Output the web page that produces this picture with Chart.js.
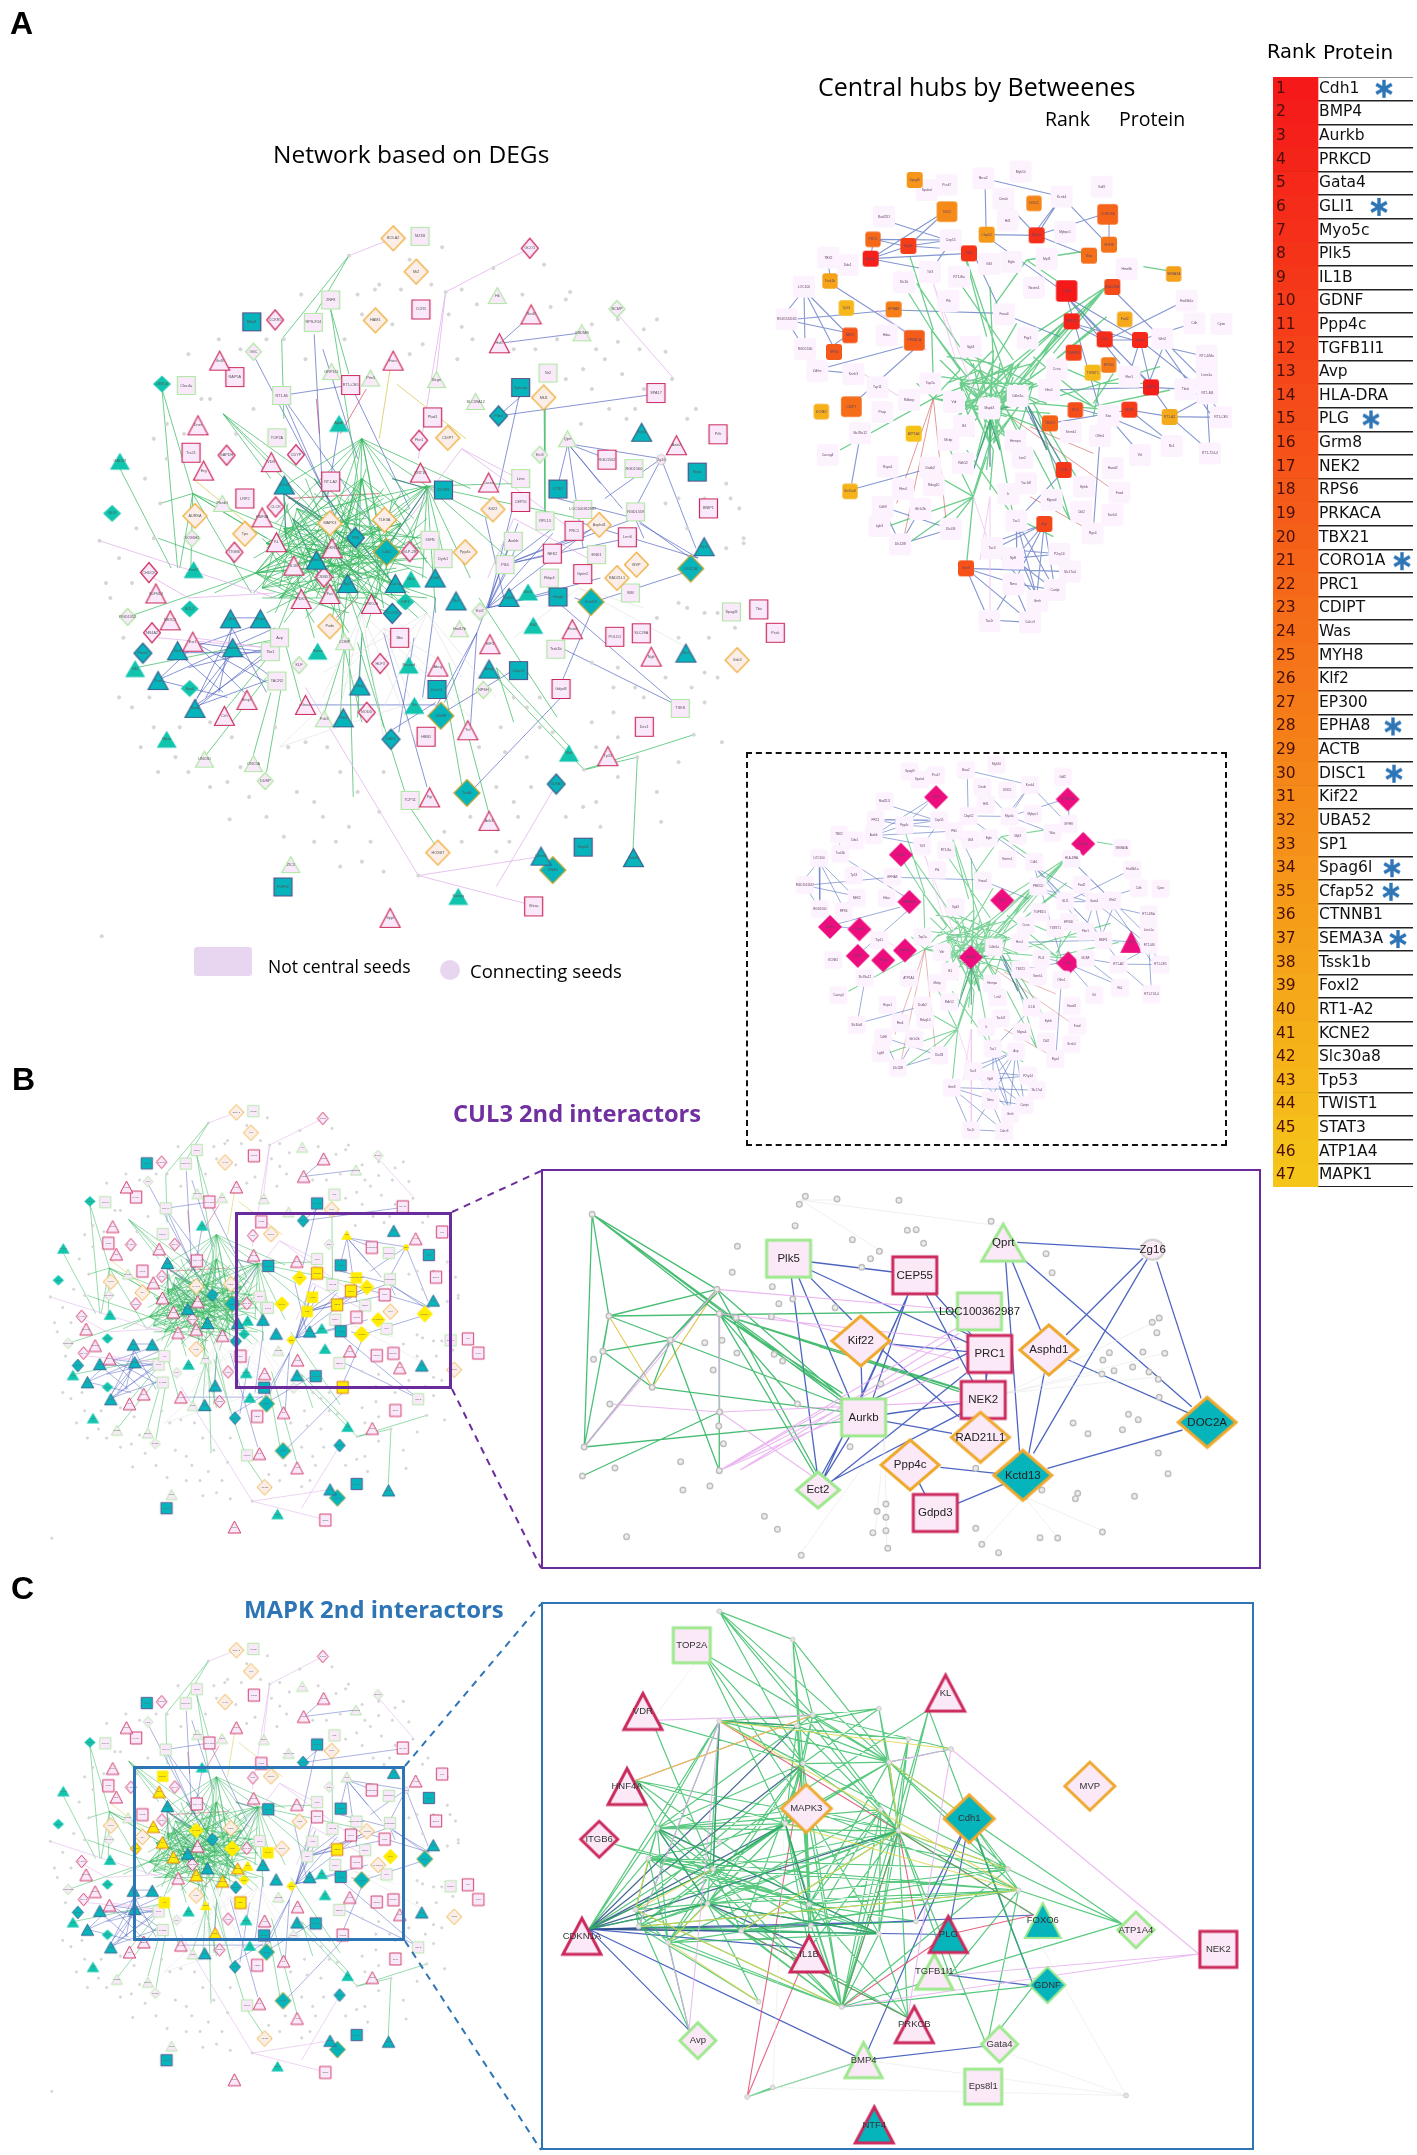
<!DOCTYPE html>
<html>
<head>
<meta charset="utf-8">
<title>Network figure</title>
<script src="https://cdn.jsdelivr.net/npm/chart.js@4"></script>
<style>
html, body { margin: 0; padding: 0; background: #fff; }
#page { position: relative; width: 1417px; height: 2155px; overflow: hidden; background: #fff; }
#page canvas { position: absolute; }
.txt { position: absolute; white-space: nowrap; line-height: 1; z-index: 6; }
.frame { position: absolute; box-sizing: border-box; z-index: 5; }
</style>
</head>
<body>
<div id="page">
  <div class="txt" style="left:10px;top:7px;font:bold 32px/1 'Liberation Sans'">A</div>
  <div class="txt" style="left:12px;top:1063px;font:bold 32px/1 'Liberation Sans'">B</div>
  <div class="txt" style="left:11px;top:1572px;font:bold 32px/1 'Liberation Sans'">C</div>
  <div class="txt" style="left:273px;top:142px;font:24.5px/1 'Open Sans'">Network based on DEGs</div>
  <div class="txt" style="left:818px;top:74px;font:25px/1 'Open Sans'">Central hubs by Betweenes</div>
  <div class="txt" style="left:1045px;top:109px;font:19.5px/1 'Open Sans'">Rank</div>
  <div class="txt" style="left:1119px;top:109px;font:19.5px/1 'Open Sans'">Protein</div>
  <div class="txt" style="left:1267px;top:42px;font:19.5px/1 'DejaVu Sans'">Rank</div>
  <div class="txt" style="left:1323px;top:42px;font:20px/1 'DejaVu Sans'">Protein</div>
  <div class="txt" style="left:268px;top:958px;font:17.5px/1 'Open Sans'">Not central seeds</div>
  <div class="txt" style="left:470px;top:962px;font:18.5px/1 'Open Sans'">Connecting seeds</div>
  <div class="txt" style="left:453px;top:1102px;font:bold 23.7px/1 'Open Sans';color:#7030a0">CUL3 2nd interactors</div>
  <div class="txt" style="left:244px;top:1597px;font:bold 23.9px/1 'Open Sans';color:#2e75b6">MAPK 2nd interactors</div>
  <div class="frame" style="left:194px;top:947px;width:58px;height:29px;background:#e8d6f1;border-radius:3px"></div>
  <div class="frame" style="left:440px;top:960px;width:20px;height:20px;background:#e8d6f1;border-radius:50%"></div>
  <div class="frame" style="left:746px;top:752px;width:481px;height:394px;border:2.5px dashed #111"></div>
  <div class="frame" style="left:235px;top:1212px;width:217px;height:177px;border:3px solid #6a2c9c"></div>
  <div class="frame" style="left:541px;top:1169px;width:720px;height:400px;border:2.5px solid #6a2c9c"></div>
  <div class="frame" style="left:133px;top:1766px;width:272px;height:175px;border:3px solid #2e75b6"></div>
  <div class="frame" style="left:541px;top:1602px;width:713px;height:548px;border:2.5px solid #2e75b6"></div>
  <svg width="1417" height="2155" style="position:absolute;left:0;top:0;z-index:5;pointer-events:none">
    <g stroke="#6a2c9c" stroke-width="2" stroke-dasharray="7 6" fill="none">
      <line x1="452" y1="1212" x2="541" y2="1171"/><line x1="452" y1="1389" x2="541" y2="1568"/>
    </g>
    <g stroke="#2e75b6" stroke-width="2" stroke-dasharray="7 6" fill="none">
      <line x1="405" y1="1766" x2="541" y2="1604"/><line x1="405" y1="1941" x2="541" y2="2150"/>
    </g>
  </svg>
</div>
<script>
// ranking table
const ranks = ["1","2","3","4","5","6","7","8","9","10","11","12","13","14","15","16","17","18","19","20","21","22","23","24","25","26","27","28","29","30","31","32","33","34","35","36","37","38","39","40","41","42","43","44","45","46","47"];
const proteins = ["Cdh1","BMP4","Aurkb","PRKCD","Gata4","GLI1","Myo5c","Plk5","IL1B","GDNF","Ppp4c","TGFB1I1","Avp","HLA-DRA","PLG","Grm8","NEK2","RPS6","PRKACA","TBX21","CORO1A","PRC1","CDIPT","Was","MYH8","Klf2","EP300","EPHA8","ACTB","DISC1","Kif22","UBA52","SP1","Spag6l","Cfap52","CTNNB1","SEMA3A","Tssk1b","Foxl2","RT1-A2","KCNE2","Slc30a8","Tp53","TWIST1","STAT3","ATP1A4","MAPK1"];
const starRanks = ["1","6","15","21","28","30","34","35","37"];
const starColumn = [1384,1379,1371,1402,1393,1394,1392,1391,1398];

// network A in crop units
const redTriangles = [["Gnl3",322,323],["Rnd2",1040,230],["Hsf2",967,288],["Fanc",722,323],["Dner",272,453],["Erg",285,544],["VDR",441,527],["HNF4A",420,638],["KRT18",785,548],["Cacna",942,568],["Axin2",1375,493],["KL",453,688],["CDKN1A",581,700],["IL1B",493,735],["SLFN14",175,791],["Fas",576,792],["PDK1",510,802],["PRKCB",672,812],["NR3C1",208,845],["Esr1",260,888],["Hoxd",1135,863],["HIF3",945,893],["Ngfr",1317,918],["Abcg",825,938],["Bmp7",385,1005],["Crh",333,1037],["Gnas",520,1015],["Tnf",894,1066],["Tp53",1217,1118],["Pgr",806,1201],["Ank3",943,1248],["Sppl",715,1443]];
const tealRedTriangles = [["Crhr2",471,573],["Kcnj3",1295,467],["Grin1",545,724],["Syt1",617,771],["Cacng",727,771],["Drd2",819,760],["Ncf",867,806],["Cdk5",989,799],["Cdkn",347,842],["Hspa",416,842],["Gabra",352,900],["Slc6",225,906],["Tnnt",180,966],["Rasd",265,1022],["Gng",645,977],["Pik3",607,1041],["Adcy",943,943],["Sirt1",1439,697],["Nos",1397,911],["Chrm1",1063,1319],["Gsk3a",1276,1322]];
const tealGreenTriangles = [["GALNT",92,525],["Foxl2",262,743],["ApoE",597,449],["Glra",763,762],["Dbx1",1033,788],["Slit2",1045,855],["Sema",548,907],["Neurod",758,935],["Gli2",127,942],["Vtn",771,1016],["Hpse",200,1084],["Wnt",1127,1112],["Nanog",872,1400]];
const greenTriangles = [["Hk",962,192],["GSDMB",1157,267],["Qprt",1124,480],["GRP161",580,345],["Ptrx5",670,358],["Bcgn",822,361],["SLC39A12",912,405],["Plxnb1",328,610],["Hsd17b",875,862],["COMP",610,888],["UNC80",287,1124],["ONC5A",400,1133],["ZIC3",486,1336],["Pak3",563,1043]];
const orangeDiamonds = [["BOLA2",722,77],["MiZ",775,144],["HAM1",681,242],["Mkl1",1069,397],["CDIPT",848,478],["AURKA",265,635],["Tpx",380,671],["MAPK3",576,650],["TLE3A",702,643],["Kif22",952,622],["Ppp4c",888,708],["Asphd1",1197,653],["MVP",1283,733],["RAD21L1",1238,760],["Pxdn",576,857],["Gsk3",1515,925],["HOXB7",825,1312]];
const tealOrangeDiamonds = [["Cdh1",707,708],["DOC2A",1408,741],["Kctd13",1178,808],["GDNF",832,1037],["TaxBt",892,1192],["DNAJ",1090,1347]];
const redDiamonds = [["GCO1",1037,97],["CCKR5",450,241],["GAPDH",338,513],["CDYP",498,512],["CLCK",451,617],["Fkn1",782,483],["ITGB6",356,708],["GLP-2R",760,707],["CHUCK",159,749],["CSMD1",562,758],["NR4A2",166,870],["HLF3",692,932],["NODD",661,1030]];
const tealRedDiamonds = [["Fbxo2",145,911],["TRK",635,679],["CLOCK",720,831],["DKK1",717,1084],["Pdzd",965,434],["GLRA1",1098,1174]];
const tealGreenDiamonds = [["LRRC6",189,370],["GLI3",74,630],["BCL2",253,822],["Sox4",253,982],["IGF1",750,808]];
const greenDiamonds = [["IGIC",400,305],["BCMP",1238,219],["Ect3",1060,512],["SOX6H2",258,680],["RGD1352",110,838],["Ect2",922,827],["KLF",505,935],["NPSH",930,985],["DUSP",427,1168]];
const redSquares = [["CCR5",786,220],["RAP5A",357,356],["RT1-CE5",624,372],["Plod1",813,437],["Trc21",256,508],["LRP2",380,600],["RT1-A2",578,566],["CEP55",1016,607],["RGD1562",1215,522],["SPA17",1328,388],["Prlk",1471,471],["BNIP1",1449,620],["PRC1",1139,665],["Lrrn6",1262,678],["NEK2",1089,711],["Gprin2",1159,752],["POLD1",1233,878],["SLC39A",1294,871],["Gdpd3",1109,983],["Dec1",1301,1059],["Bbs",737,880],["HBB1",798,1079],["Shisa",1046,1420],["Tbx",1565,823],["Pcsk",1603,870]];
const tealRedSquares = [["Mbd1",396,245],["Syncrip",1016,377],["ZC3H3",838,583],["CTSO",1102,581],["Sirpa",1423,547],["Hmgb",1102,798],["Cfap52",1011,946],["Dnmt1",823,984],["Map4k",1160,1301],["FGFR2",468,1381]];
const greenSquares = [["MZ1B",784,73],["ZNF8",578,201],["RPS-F24",538,246],["Clec4a",245,373],["Nr2",1079,348],["RT1-Mi",465,393],["TOP2A",454,478],["Lims",1016,560],["RGD1560",1277,540],["LOC100362987",1159,622],["RGD1559",1281,627],["RPL13",1072,645],["Aurkb",999,686],["ENK1",1191,713],["Fkbp4",1082,760],["Plk5",980,733],["IGFN",807,684],["Dyrk1",837,721],["SIM",1269,790],["Tssk1b",1097,903],["TSKS",1384,1022],["Spag6l",1502,828],["TCP11",761,1207],["Tbx1",439,908],["TACR2",454,967],["Avp",460,880]];
const greenCircles = [["Zg16",1340,522]];

// grey connector nodes of network A
const networkDots = [620,112,843,185,953,137,690,170,880,180,915,210,1130,185,1020,190,1085,215,1180,250,1240,285,1290,300,1350,305,1330,240,1300,260,1365,360,1210,320,1160,340,1120,360,1220,420,1260,440,1155,450,850,230,880,255,905,280,870,320,790,290,760,310,680,180,640,190,510,190,470,280,430,280,300,400,250,310,280,400,360,470,200,450,185,610,150,560,130,660,45,685,90,720,120,770,70,800,160,1000,120,1020,170,1060,230,1060,340,1170,370,1140,345,1245,500,1190,540,1210,560,1240,620,1260,670,1290,690,1230,540,1290,600,1340,780,1358,840,1270,880,1290,980,1110,1010,1240,1040,1180,1000,1210,1120,1240,1190,1210,1240,1160,1285,1120,1162,1145,1415,1075,1480,1090,1330,1190,1340,1250,1380,1130,1410,980,1440,1010,1470,960,1510,860,1490,700,1530,690,1490,570,1500,600,1530,680,1400,660,1380,600,1350,610,1380,810,1330,840,1440,830,1230,980,1180,1050,1230,1030,1280,980,1180,930,1240,940,50,1480,920,1100,970,1060,1030,1020,1060,1000,1000,1000,600,1150,570,1100,480,1100,450,1060,520,1090,700,1150,640,1190,350,1080,220,1120,300,1050,240,470,400,420,760,120,835,95,
  1000,300,1050,300,1100,280,1190,300,1250,350,1300,380,1420,420,1400,440,1490,480,1180,380,1280,420,1440,600,1520,620,1400,820,1450,880,1470,830,1380,880,1350,960,1300,1000,1440,950,1240,1080,1190,1100,1090,1070,1060,1060,1030,1120,960,1180,900,1240,990,1290,1200,1260,1160,1220,960,1310,700,1350,650,1330,590,1290,470,1280,430,1240,390,1200,300,1180,250,1150,180,1150,140,1100,90,1000,100,880,60,770,170,680,200,520,170,480,320,280,370,300,520,320,720,250,610,280,650,230,740,180,810,170,1070,130,1120,200,1240,240];

// edges of network A: hub point, then the far ends
const networkGreen = [
  [800,575,[645,480,700,640,760,700,640,700,605,760,560,620,450,700,790,760,730,600,840,720,1000,730,900,760,1150,640,1000,570,820,830,940,640]],
  [650,480,[450,650,560,700,640,800,700,720,540,620,800,730,760,600,900,580,580,850,720,800,480,570]],
  [405,750,[600,560,650,700,760,720,800,720,560,660,700,600,500,800,600,830,720,830,180,680,110,838,310,790,720,690,630,620,560,580]],
  [560,640,[400,790,450,880,650,870,720,780,800,830,610,880,400,720,780,680,760,800,690,660]],
  [650,560,[620,720,545,800,700,820,480,760,690,740,830,760,770,640,600,900,510,800,430,700]],
  [470,660,[760,790,700,810,620,870,540,880,800,680,660,640,590,800]],
  [540,780,[700,580,760,640,620,600,800,800,470,600,430,830]],
  [430,690,[620,760,700,720,760,780,660,590,590,600,540,850,800,700,820,800]],
  [600,700,[430,760,470,850,520,720,680,830,780,840,640,560,730,680,420,640,760,620]],
  [500,620,[700,760,650,830,600,800,460,780,800,760,740,700]],
  [720,700,[470,760,540,590,600,610,580,860,440,800,660,860,800,640]],
  [610,760,[470,620,520,560,740,590,790,670,440,690,740,830]],
  [680,800,[540,660,450,720,590,590,720,600,800,600,420,800]],
  [460,800,[700,640,620,650,680,700,760,740,590,690]],
  [560,800,[800,680,700,640,660,540,420,680]],
  [420,780,[660,660,590,730,540,620,730,740,620,830,480,610]],
  [740,650,[480,720,560,760,430,740,520,840,640,840,600,560]],
  [520,700,[690,610,790,740,610,820,450,830,740,810,660,720]],
  [260,590,[450,690,230,740,430,680,560,700,185,610,395,790,255,760]],
  [330,430,[580,640,760,700,440,560,640,720]],
  [620,112,[465,280,538,235]],
  [578,220,[620,350,640,560]],
  [465,280,[470,440]],
  [92,540,[210,740]],
  [189,380,[260,590,225,740]],
  [1070,415,[1072,630]],
  [1285,1120,[1275,1305,1165,1145]],
  [1162,1145,[1415,1075,960,960]],
  [885,1200,[845,1000]],
  [945,1240,[850,930]],
  [825,1305,[760,1220]],
  [760,1220,[640,890]],
  [630,1200,[620,880]],
  [287,1120,[430,960]],
  [400,1115,[440,990]],
  [430,1150,[470,950]],
  [960,940,[1130,1100,1000,1050]],
  [920,800,[1100,1040]],
  [610,900,[600,1040,650,1050,560,1040]],
  [650,870,[640,1040,700,1060]],
  [470,880,[330,1030,510,1010,130,940]]
];
const networkDark = [[470,590,[475,680,560,640,640,700]],[490,640,[560,770,650,760]],[620,660,[730,780,540,560]],[800,580,[720,560,690,720]]];
const networkBlue = [
  [1125,490,[1250,620,1100,580,1340,520,1160,700,1200,570,1215,520]],
  [1340,520,[1280,620,1210,600,1420,700]],
  [1280,640,[1408,720,1100,600,1090,700,1300,680]],
  [940,820,[1090,670,1000,610,1000,720,1180,660,1090,790,1200,760,1010,690,990,690]],
  [980,733,[1090,660,1200,655,1140,680,1262,680,1090,710]],
  [1016,380,[965,580]],
  [965,434,[1328,390,1016,395]],
  [968,288,[1040,232,1157,267]],
  [1097,895,[1375,1015]],
  [1140,800,[1178,810]],
  [1109,1000,[900,1190]],
  [1178,810,[1408,745]],
  [1178,830,[1110,970]],
  [1425,720,[1290,650,1160,650]],
  [915,870,[840,1010,820,1020,900,1060,1010,650]],
  [820,1040,[1000,945]],
  [735,1070,[770,880]],
  [720,1065,[820,1010]],
  [800,1180,[700,870]],
  [505,1015,[820,1015]],
  [640,1000,[650,880]],
  [790,1000,[820,800]],
  [265,890,[430,970,390,1000,440,910]],
  [350,840,[415,840]],
  [350,860,[260,1020,430,990,320,990]],
  [225,910,[420,850,440,910,330,990]],
  [180,965,[270,890,450,860,340,1000]],
  [440,900,[270,1020,250,940]],
  [260,1020,[450,960,440,910]],
  [355,905,[290,1000,460,970,270,1000]],
  [465,393,[624,372,680,660,590,640]],
  [624,372,[760,620]],
  [540,270,[560,600]],
  [560,300,[640,520]],
  [405,320,[560,580]],
  [600,440,[570,600]],
  [935,640,[980,810]],
  [1090,800,[1370,1010]]
];
const networkPink = [
  [780,1358,[1060,1320,1030,1415,520,980]],
  [45,685,[450,800]],
  [843,185,[1037,97,820,360,780,520]],
  [620,112,[722,77]],
  [1240,230,[1370,360]],
  [960,1380,[1095,1180]],
  [880,500,[1010,560,760,640,1130,660]],
  [250,800,[450,790,140,745]],
  [1000,640,[940,760,1170,720]],
  [430,900,[260,880,180,880]]
];
const networkYellow = [[715,340,[690,480]],[730,370,[890,480]],[260,560,[400,660]]];
const networkRed = [[545,400,[552,470]],[660,380,[600,470]],[590,840,[640,800]],[480,600,[690,590]]];
const networkHaze = [
  [650,830,[700,1080,780,1100,900,1040,600,1020,560,1000]],
  [800,830,[620,1000,700,1020,880,960,960,1000,560,950]],
  [1150,780,[1400,900,1300,820,1000,880]],
  [460,1100,[640,950,800,1000]],
  [700,860,[880,1000,600,960,760,1000,820,920]]
];

// detail B
const cul3Green = [["Plk5",534,296],["LOC100362987",944,454],["Aurkb",695,772]];
const cul3Red = [["CEP55",805,346],["PRC1",966,582],["NEK2",952,720],["Gdpd3",849,1059]];
const cul3Orange = [["Kif22",689,543],["Asphd1",1093,570],["RAD21L1",946,832],["Ppp4c",795,915]];
const cul3Teal = [["Kctd13",1037,946],["DOC2A",1433,787]];
const cul3Ect = [["Ect2",597,990]];
const cul3Tri = [["Qprt",995,248]];
const cul3Circle = [["Zg16",1316,269]];
const cul3Dots = [570,109,557,133,638,117,771,121,548,197,424,259,413,337,499,380,513,431,543,417,634,443,497,470,421,473,354,548,391,541,115,598,423,579,372,630,503,583,521,603,732,672,302,905,161,924,394,851,307,990,365,978,666,860,482,1069,510,1108,186,1130,561,1186,743,1032,724,1054,743,1072,743,1112,715,1118,747,1165,936,1105,949,1153,985,1178,1074,1133,1112,1134,1208,1116,1277,1009,1155,1000,1150,1016,1078,990,1041,1010,998,957,936,925,1349,941,1328,879,1251,809,1177,821,1145,789,1285,779,1264,763,1330,712,1328,658,1308,636,1273,621,1233,632,1207,642,1209,600,1223,578,1295,576,1342,580,1325,518,1315,487,1330,474,1100,338,1087,281,969,184,824,250,808,209,789,211,671,239,729,274,710,296,691,322,112,163,380,388,385,461,148,468,280,540,135,574,241,682,150,732,386,756,384,798,95,861,91,948,385,932,553,732];
const cul3GreenEdges = [
  [112,163,[148,468,95,861,385,461,380,388,650,715,650,725]],
  [380,388,[148,468,650,715,280,540,597,945]],
  [148,468,[900,455,135,574,95,861,650,735]],
  [280,540,[135,574,95,861,241,682,385,932,380,400]],
  [135,574,[241,682]],
  [241,682,[650,755]],
  [95,861,[650,785]],
  [91,948,[386,756]],
  [385,461,[900,695,900,685,650,715,597,960,553,732,385,932,650,700]],
  [600,560,[905,690]]
];
const cul3YellowEdges = [[148,468,[241,682]],[241,682,[380,388]]];
const cul3PinkEdges = [
  [380,388,[900,450,95,861]],
  [385,461,[900,540,386,756]],
  [150,732,[386,756]],
  [386,756,[900,725,597,960]],
  [385,932,[900,500,900,620,650,720,900,560]],
  [95,861,[280,540]],
  [500,470,[900,600]],
  [430,930,[650,760,900,520]]
];
const cul3BlueEdges = [
  [582,306,[758,336]],[580,330,[918,548]],[582,355,[670,480]],[555,350,[665,715]],[540,352,[595,935]],
  [790,405,[690,715,715,715,610,950]],[830,405,[930,665]],[850,405,[930,530]],
  [750,552,[918,575]],[735,570,[900,770]],[690,620,[692,715]],
  [918,580,[720,715]],[915,640,[625,965]],[745,762,[905,730]],[745,785,[885,820]],
  [960,640,[958,665]],[665,830,[612,950]],[650,830,[605,945]],[905,760,[630,960]],
  [1025,247,[1290,268]],[1000,300,[1030,875]],[1013,300,[1075,510]],[1040,300,[1400,740]],
  [1295,295,[1130,525]],[1305,295,[1060,880]],[1325,305,[1420,715]],
  [1135,600,[1395,760]],[1083,640,[1050,880]],[1380,810,[1090,925]],
  [860,922,[980,940]],[815,970,[827,1003]],[897,1030,[1000,970]],[900,510,[930,530]]
];
const cul3HazeEdges = [
  [1000,700,[1330,480,1340,580,1330,650,1200,640]],
  [740,830,[745,1160,720,1120,560,1180]],
  [1040,1010,[950,1150,1110,1130,1205,1110]],
  [560,120,[740,280,640,120,1000,200]]
];

// detail C
const mapkRedTri = [["VDR",221,315],["KL",871,263],["HNF4A",187,527],["CDKN1A",90,950],["IL1B",578,1000],["PRKCB",804,1200]];
const mapkRedDia = [["ITGB6",127,676]];
const mapkRedSq = [["NEK2",1457,987]];
const mapkOrange = [["MAPK3",572,589],["MVP",1181,526]];
const mapkTealOrange = [["Cdh1",922,618]];
const mapkTealRed = [["PLG",877,945],["NTF4",718,1483]];
const mapkTealGreenTri = [["FOXO6",1080,905]];
const mapkTealGreenDia = [["GDNF",1090,1088]];
const mapkGreenSq = [["TOP2A",326,128],["Eps8l1",952,1375]];
const mapkGreenTri = [["TGFB1I1",847,1050],["BMP4",695,1300]];
const mapkGreenDia = [["ATP1A4",1280,932],["Avp",339,1245],["Gata4",987,1255]];
// junction and node anchor points, edges below refer to them by position
const mapkPoints = [[385,32],[543,112],[586,325],[728,307],[385,342],[552,355],[565,462],[750,458],[791,393],[883,421],[732,592],[527,632],[770,652],[252,645],[233,730],[372,760],[360,858],[578,860],[205,875],[212,923],[432,935],[582,920],[275,968],[728,943],[808,908],[1005,760],[1028,820],[470,1135],[648,1150],[445,1404],[500,1377],[1259,1400],[385,683],[105,930],[578,985],[790,1180],[922,618],[1060,890],[1250,915],[1060,1090],[240,340],[205,510],[160,690],[350,150],[835,310],[572,589],[880,1060],[1415,1000],[695,1300],[960,1260],[320,1215],[877,945]];
const mapkGreenEdges = [
  [0,[1,6,7,12,2]],[1,[2,6,7,21]],[43,[6,45,7,11]],[2,[3,6,7,9,11,4,12,13]],[3,[6,7,5,12]],
  [4,[6,8,15,16,13,7,25,19]],[5,[7,11,12,17,3,4]],[6,[7,11,12,13,16,22,28,18,20,17]],
  [7,[9,12,11,15,25,26,36,17]],[8,[12,23,28]],[10,[17,13,28,16,21]],[11,[13,14,15,16,19,22,25,28,21,34]],
  [12,[13,15,16,18,19,20,22,25,26,28,34,35,46,37]],[13,[14,15,16,18,23,22,28,33,45,12]],[14,[15,17,23,25,28,26]],
  [15,[17,20,21,23,26,28,22,19,45]],[16,[20,23,26,28,27,25,19,12,35]],[17,[21,28,35,25,24,26]],
  [18,[22,19,28,16,12]],[19,[20,23,28,27,26]],[20,[21,23,35,28,26]],[21,[28,24,45]],[22,[28,23,26,50]],
  [23,[28,35,12,10]],[25,[36,38,28]],[26,[36,38,12,49,46]],[41,[13,15,17,11,12]],[40,[15,6]],[42,[15,17]],
  [44,[28,39,12,33]],[28,[39,46]],[33,[13,4,14,15,16]],[45,[28,34,19,23,7,26,12]],[38,[46,36]],[36,[26,25,39]],
  [29,[30,48]],[49,[39,12]],[50,[14,18]]
];
const mapkDarkEdges = [[33,[5,11,15,12,16,6]],[4,[5,15]],[13,[23,16]],[11,[15,17]],[16,[34,23]],[33,[20,21]]];
const mapkBlueEdges = [[33,[34,50,48,51,24]],[36,[51,39,24]],[46,[39]],[48,[49,36]],[37,[21]]];
const mapkYellowEdges = [[4,[9,26]],[41,[2]],[18,[14,15,28]],[22,[27,16]],[7,[36,12]],[12,[25,20]],[26,[19,11]]];
const mapkPinkEdges = [[40,[2]],[9,[47,7,35]],[47,[46,28]],[4,[19,50]],[22,[50]],[28,[47]]];
const mapkRedEdges = [[29,[34,6]],[28,[51,12]],[51,[37]],[4,[12]],[41,[2]],[12,[37]],[35,[20]],[24,[12]]];
const mapkHazeEdges = [[30,[1,31]],[31,[36,49]],[29,[48]],[48,[31]],[40,[43]]];

// hub network, sized squares coloured by rank, then the pale ones
const hubRanked = [["Cdh1",920,423,64],["BMP4",1173,712,48],["Aurkb",332,326,48],["PRKCD",935,514,48],["Gata4",1140,570,48],["GLI1",1034,568,48],["Myo5c",830,256,48],["Plk5",627,310,48],["IL1B",911,960,48],["GDNF",1108,779,48],["Ppp4c",445,288,48],["TGFB1I1",941,608,48],["Avp",853,1122,48],["HLA-DRA",1057,411,48],["PLG",946,780,46],["Grm8",618,1255,48],["NEK2",270,556,46],["RPS6",222,606,48],["PRKACA",463,571,62],["TBX21",870,820,48],["CORO1A",1043,193,62],["PRC1",339,268,46],["CDIPT",274,770,62],["Was",987,317,48],["MYH8",1047,284,48],["EP300",1046,645,46],["EPHA8",401,478,48],["DISC1",822,160,46],["Kif22",561,185,62],["Spag6l",464,90,48],["Cfap52",680,254,48],["SEMA3A",1241,372,46],["Tssk1b",210,393,46],["Foxl2",1094,508,46],["RT1-A2",1229,801,48],["KCNE2",184,785,46],["Slc30a8",270,1024,46],["Tp53",259,474,46],["TWIST1",998,668,48],["ATP1A4",461,851,48]];
const hubPale = [["TBX2",205,323],["Ddx1",263,345],["Rad21l1",372,200],["Spatial",500,120],["Pcsk7",560,104],["Brca2",670,85],["Myh10",782,65],["Cmah",730,147],["Kcnk4",905,140],["Gdf2",1025,110],["Hif1",743,212],["Cep55",572,270],["Tcf3",510,366],["Dlc1b",432,397],["RT1-Ba",597,380],["Gli3",687,342],["Egln",754,336],["Mpl3",860,327],["Mybpc1",915,246],["Hmx6b",1100,357],["Nectin1",822,413],["Ptk",565,453],["Foxa4",732,493],["Sgk3",632,590],["Pigr1",803,565],["LOC100",132,410],["RGD1561182",80,508],["RGD1560",135,597],["Hdac",380,556],["Zdhhc",172,663],["Kcnh3",280,672],["Tcp11",352,712],["Psap",367,786],["Top2a",511,700],["Rdbiop",447,750],["Vdr",582,756],["Mapk3",688,775],["Cdkn1a",773,738],["Ccna",890,658],["Hes1",867,720],["Fbn1",1108,680],["Tbcb",1276,718],["RT1-M4",1342,730],["RT1-CE5",1383,802],["RT1-T24-4",1350,910],["Lims1a",1340,675],["RT1-DMa",1340,617],["Wnt2",1207,566],["Cdh",1303,520],["Cpsn",1384,522],["Hsd3b1a",1280,452],["Ift1",612,827],["Mcbp",565,870],["Hnrnpa",766,872],["Lxn2",787,923],["Snrnk1",933,846],["Sos",1045,797],["Olfm1",1020,858],["Vcl",1140,915],["Rs1",1235,888],["Slc39a12",300,850],["Cacng4",203,915],["Rspo1",383,950],["Dsdb2",511,953],["Rdh52",609,940],["Fbn4",429,1017],["Rdug10",521,1005],["Tac1r8",798,1000],["Hand2",1058,955],["Foxd",1078,1028],["Ephb",972,1010],["Mgea4",875,1050],["Cbl2",964,1085],["Scnk4",1057,1095],["Rgs4",998,1150],["Ir",745,1032],["Cdh9",368,1070],["Gfr1r2b",481,1077],["Lgb3",358,1128],["Dlc12f8",421,1183],["Dlc4l3",572,1137],["Tac1",769,1112],["Tac3",696,1194],["Npff",759,1225],["P2ry14",898,1212],["Slc17a4",930,1265],["Nmu",760,1303],["Cartpt",885,1320],["Gnrh",832,1353],["Tac2r",688,1413],["Calcr3",810,1417]];
const hubGreen = [
  [688,775,[540,630,600,700,620,830,780,640,830,700,860,650,920,530,700,600,650,610,760,700,640,720,610,840,650,920,690,880,750,880,780,920,830,830,870,790,580,760,520,745]],
  [688,880,[640,640,720,640,760,680,600,680,680,960,640,1030,800,740,700,600]],
  [600,700,[760,760,700,600,820,700,700,900,640,860,820,640]],
  [760,640,[620,780,640,700,700,880,590,800,660,900]],
  [640,780,[850,700,820,760,760,880,700,640]],
  [700,700,[800,900,600,620,860,760,540,680]],
  [820,700,[640,620,600,760,700,880,760,900]],
  [660,660,[780,840,830,760,600,800,720,900,560,700]],
  [920,510,[810,680,690,720,760,640,700,800]],
  [1040,410,[810,650,880,610,910,530,780,580,760,720]],
  [520,745,[600,660,470,700,760,650,640,760,240,900,740,800]],
  [450,320,[520,540]],
  [470,400,[640,650]],
  [515,540,[620,680,520,700,600,660,440,420]],
  [640,1040,[620,1240,380,1130,500,960,570,1130,680,920,430,1190,560,880]],
  [690,1020,[700,900]],
  [700,640,[770,520,560,620,690,410,620,800]],
  [860,650,[1040,500,1000,540,700,760]],
  [1060,670,[1000,760]],
  [1000,770,[860,700,820,620,1230,720]],
  [820,760,[1060,780,1200,650,960,1000]],
  [600,400,[760,630]],
  [610,300,[680,560,760,750]],
  [800,330,[1000,300,930,420,700,470]],
  [1150,350,[1240,365]],
  [760,1100,[620,900,700,780,880,1160]],
  [930,1110,[830,780,820,900]],
  [1020,700,[880,640,1170,700,1000,800]]
];
const hubDark = [[800,760,[910,950,860,900,700,780]],[690,810,[690,950,640,960,720,900]]];
const hubBlue = [
  [332,326,[627,310,445,288,530,200,510,360,340,270]],
  [340,268,[530,270,445,290,560,270]],
  [445,288,[530,210,620,300,570,270]],
  [372,210,[560,270]],
  [510,365,[570,280]],
  [132,420,[135,590,220,590,60,510,250,540]],
  [80,510,[400,480,130,590,270,550]],
  [200,600,[270,550]],
  [205,340,[210,380]],
  [210,400,[460,560]],
  [270,770,[460,600]],
  [170,660,[280,670,430,590]],
  [920,440,[1040,560,1140,570,1020,780,1175,710,1080,640]],
  [1060,420,[1200,560,1320,680]],
  [935,520,[1140,575,1030,570]],
  [1040,570,[1140,570,1170,700,1280,450]],
  [1140,570,[1100,700,1170,700,1340,730,1300,520]],
  [1210,590,[1170,690,1350,790,1340,620]],
  [1230,800,[1380,802,1340,740,1350,905]],
  [1340,730,[1350,905,1380,790]],
  [1175,712,[1230,790,1280,718,870,720]],
  [1108,780,[1235,880,1230,800,870,820]],
  [1045,800,[1140,910,1235,880,970,780]],
  [830,256,[730,150,905,140,680,254,987,317,1040,190]],
  [905,140,[670,85,830,240,1040,280]],
  [675,90,[678,230]],
  [680,260,[890,410]],
  [1047,280,[1047,200]],
  [725,490,[400,480,640,310,760,500,900,560]],
  [1020,860,[1000,1140]],
  [905,970,[790,1090]],
  [510,955,[270,1020]],
  [300,860,[275,1000]],
  [618,1255,[760,1300,930,1265,690,1420,810,1415]],
  [853,1122,[720,1170,760,1300,830,1340,885,1320,760,1230,696,1200]],
  [769,1112,[770,1240,830,1340,885,1320]],
  [696,1194,[900,1212,830,1340]],
  [759,1225,[885,1320,900,1212]],
  [760,1300,[690,1415,810,1415,885,1320]],
  [690,1410,[810,1417]],
  [830,1340,[770,1200]],
  [368,1070,[572,1137,421,1183]],
  [421,1183,[572,1137,481,1077]],
  [900,965,[790,760,810,800]]
];
const hubPink = [[690,1040,[690,1400,660,1230]],[640,1040,[700,1220]],[520,400,[640,720,590,640]],[500,600,[350,480]],[260,640,[450,760]]];
const hubRed = [[520,745,[410,1060,430,1170,560,1130]],[810,830,[1000,910]],[750,800,[1060,1020]],[810,1040,[970,1130]]];

const cul3Highlight = ["Qprt","Zg16","Kif22","CEP55","LOC100362987","Asphd1","PRC1","NEK2","Aurkb","Plk5","Ect2","Kctd13","RAD21L1","DOC2A","Ppp4c","Gdpd3"];
const mapkHighlight = ["TOP2A","VDR","HNF4A","ITGB6","KL","MAPK3","IL1B","Cdh1","Dyrk1","Ect2","Fas","PRKCB","Cacng","Glra","IGF1","Bbs","Avp","COMP","Gng","NEK2","MVP"];
const dashedHighlight = ["Kif22","CORO1A","Hmx6b","Dlc1b","PRKACA","Pigr1","Kcnh3","Zdhhc","CDIPT","Psap","Rdbiop","Mapk3","Sos","Tbcb"];

const PALE = "#f9e9fa", RED = "#cc2a5c", GREEN = "#aee8a2", ORANGE = "#efa92e", TEAL = "#06b4bb", TEAL2 = "#10c4ae", DARK = "#37628f", YELLOW = "#ffec00";

function heat(rank) {
    const hue = ((rank - 1) / 46) * 47;
    return "hsl(" + hue + ",92%,53%)";
}

function sprite(shape, w, h, fill, line, lw, round) {
    const c = document.createElement("canvas");
    c.width = Math.ceil(w + lw * 2 + 2);
    c.height = Math.ceil(h + lw * 2 + 2);
    const g = c.getContext("2d");
    const cx = c.width / 2, cy = c.height / 2;
    g.beginPath();
    if (shape === "tri") {
        g.moveTo(cx, cy - h / 2);
        g.lineTo(cx + w / 2, cy + h / 2);
        g.lineTo(cx - w / 2, cy + h / 2);
        g.closePath();
    } else if (shape === "dia") {
        g.moveTo(cx, cy - h / 2);
        g.lineTo(cx + w / 2, cy);
        g.lineTo(cx, cy + h / 2);
        g.lineTo(cx - w / 2, cy);
        g.closePath();
    } else if (shape === "circle") {
        g.ellipse(cx, cy, w / 2, h / 2, 0, 0, Math.PI * 2);
    } else {
        g.roundRect(cx - w / 2, cy - h / 2, w, h, round || 0);
    }
    g.fillStyle = fill;
    g.fill();
    if (line && lw > 0) {
        g.strokeStyle = line;
        g.lineWidth = lw;
        g.lineJoin = "miter";
        g.stroke();
    }
    return c;
}

function starSegments(stars) {
    const out = [];
    stars.forEach(function (s) {
        for (let i = 0; i < s[2].length; i += 2) {
            out.push({ x: s[0], y: s[1] }, { x: s[2][i], y: s[2][i + 1] }, { x: null, y: null });
        }
    });
    return out;
}

function pointSegments(points, edges) {
    const out = [];
    edges.forEach(function (e) {
        e[1].forEach(function (t) {
            const a = points[e[0]], b = points[t];
            out.push({ x: a[0], y: a[1] }, { x: b[0], y: b[1] }, { x: null, y: null });
        });
    });
    return out;
}

function edgeSet(data, color, width) {
    return { data: data, showLine: true, borderColor: color, borderWidth: width, pointRadius: 0, spanGaps: false, order: 3 };
}

function dotSet(flat, fill, line, radius, lineWidth) {
    const data = [];
    for (let i = 0; i < flat.length; i += 2) data.push({ x: flat[i], y: flat[i + 1] });
    return { data: data, pointStyle: "circle", pointRadius: radius, pointBackgroundColor: fill, pointBorderColor: line, pointBorderWidth: lineWidth || 1, order: 2 };
}

function nodeSet(list, style, k, lw, highlight, hiFill) {
    const base = sprite(style.shape, style.w * k, style.h * k, style.fill, style.line, lw);
    const hiLine = style.line === RED || style.line === DARK ? "#d9741f" : null;
    const hi = sprite(style.shape, style.w * k, style.h * k, hiFill || YELLOW, hiLine, lw);
    return {
        data: list.map(function (n) { return { x: n[1], y: n[2] }; }),
        names: list.map(function (n) { return n[0]; }),
        pointStyle: list.map(function (n) { return highlight && highlight.includes(n[0]) ? hi : base; }),
        pointRadius: 6,
        order: 1,
    };
}

const nodeLabels = {
    id: "nodeLabels",
    afterDatasetsDraw: function (chart, args, opts) {
        const g = chart.ctx;
        g.save();
        g.font = opts.size + "px " + (opts.family || "'Liberation Sans'");
        g.fillStyle = opts.color || "#444";
        g.textAlign = "center";
        g.textBaseline = "middle";
        chart.data.datasets.forEach(function (ds, i) {
            if (!ds.names) return;
            chart.getDatasetMeta(i).data.forEach(function (el, j) {
                g.fillText(ds.names[j], el.x, el.y);
            });
        });
        g.restore();
    },
};

function networkChart(box, xMax, yMax, datasets, labelSize, blur, labelColor) {
    const canvas = document.createElement("canvas");
    canvas.width = box[2];
    canvas.height = box[3];
    canvas.style.left = box[0] + "px";
    canvas.style.top = box[1] + "px";
    canvas.style.width = box[2] + "px";
    canvas.style.height = box[3] + "px";
    if (blur) canvas.style.filter = "blur(" + blur + "px)";
    document.getElementById("page").appendChild(canvas);
    return new Chart(canvas, {
        type: "scatter",
        data: { datasets: datasets },
        plugins: [nodeLabels],
        options: {
            responsive: false,
            animation: false,
            events: [],
            layout: { padding: 0, autoPadding: false },
            scales: {
                x: { type: "linear", display: false, min: 0, max: xMax },
                y: { type: "linear", display: false, min: 0, max: yMax, reverse: true },
            },
            plugins: {
                legend: { display: false },
                tooltip: { enabled: false },
                nodeLabels: { size: labelSize, color: labelColor },
            },
        },
    });
}

// network A and its two thumbnails
function networkSets(k, lw, alpha, highlight) {
    const a = function (rgb, x) { return "rgba(" + rgb + "," + x * alpha + ")"; };
    const sets = [
        edgeSet(starSegments(networkHaze), a("225,225,225", 0.8), 0.8),
        edgeSet(starSegments(networkPink), a("226,180,236", 0.8), 1),
        edgeSet(starSegments(networkGreen), a("58,186,98", 0.72), 1),
        edgeSet(starSegments(networkDark), a("30,110,110", 0.8), 1.2),
        edgeSet(starSegments(networkBlue), a("72,92,190", 0.65), 1),
        edgeSet(starSegments(networkYellow), a("220,210,110", 0.9), 1),
        edgeSet(starSegments(networkRed), a("222,90,120", 0.8), 1),
        dotSet(networkDots, "#d6d6d6", "#d6d6d6", 1.6 * Math.max(k, 0.7)),
    ];
    const groups = [
        [redTriangles, { shape: "tri", w: 20, h: 19, fill: PALE, line: RED }],
        [tealRedTriangles, { shape: "tri", w: 20, h: 18, fill: TEAL, line: DARK }],
        [tealGreenTriangles, { shape: "tri", w: 20, h: 17, fill: TEAL2, line: null }],
        [greenTriangles, { shape: "tri", w: 18, h: 16, fill: PALE, line: GREEN }],
        [orangeDiamonds, { shape: "dia", w: 24, h: 25, fill: "#fbeee8", line: ORANGE }],
        [tealOrangeDiamonds, { shape: "dia", w: 26, h: 27, fill: TEAL, line: "#c7a52a" }],
        [redDiamonds, { shape: "dia", w: 17, h: 20, fill: PALE, line: RED }],
        [tealRedDiamonds, { shape: "dia", w: 18, h: 20, fill: TEAL, line: DARK }],
        [tealGreenDiamonds, { shape: "dia", w: 18, h: 17, fill: TEAL2, line: null }],
        [greenDiamonds, { shape: "dia", w: 16, h: 17, fill: PALE, line: GREEN }],
        [redSquares, { shape: "sq", w: 18, h: 19, fill: PALE, line: RED }],
        [tealRedSquares, { shape: "sq", w: 18, h: 18, fill: TEAL, line: "#5a4f8a" }],
        [greenSquares, { shape: "sq", w: 18, h: 18, fill: PALE, line: GREEN }],
        [greenCircles, { shape: "circle", w: 9, h: 10, fill: PALE, line: "#cccccc" }],
    ];
    groups.forEach(function (g) {
        sets.push(nodeSet(g[0], g[1], k, lw, highlight));
    });
    return sets;
}

networkChart([80, 200, 720, 780], 1660, 1568, networkSets(1, 1.2, 1), 3.8, 0.5, "#555");
networkChart([38, 1089, 456, 476], 1660, 1568, networkSets(0.63, 0.9, 0.72, cul3Highlight), 2.3, 0.4, "#666");
networkChart([38, 1626, 456, 493], 1660, 1568, networkSets(0.63, 0.9, 0.72, mapkHighlight), 2.3, 0.4, "#666");

// hub network and its dashed twin
function hubSets(k, alpha, coloured, highlight) {
    const a = function (rgb, x) { return "rgba(" + rgb + "," + x * alpha + ")"; };
    const sets = [
        edgeSet(starSegments(hubPink), a("240,190,240", 0.7), 1.1 * k),
        edgeSet(starSegments(hubGreen), a("62,190,104", 0.75), 1.3 * k),
        edgeSet(starSegments(hubDark), a("30,110,110", 0.75), 1.3 * k),
        edgeSet(starSegments(hubBlue), a("84,110,190", 0.72), 1.1 * k),
        edgeSet(starSegments(hubRed), a("214,110,110", 0.7), 1 * k),
    ];
    const paleSprite = sprite("sq", 22 * k, 22 * k, "#fdf3fe", null, 0, 3);
    const pinkSprite = sprite("dia", 24 * k / 0.82, 24 * k / 0.82, "#ec0d7e", null, 0);
    const pinkTri = sprite("tri", 22 * k / 0.82, 22 * k / 0.82, "#ec0d7e", null, 0);
    sets.push({
        data: hubPale.map(function (n) { return { x: n[1], y: n[2] }; }),
        names: hubPale.map(function (n) { return n[0]; }),
        pointStyle: hubPale.map(function (n) {
            if (highlight && highlight.includes(n[0])) return n[0] === "Tbcb" ? pinkTri : pinkSprite;
            return paleSprite;
        }),
        pointRadius: 6,
        order: 2,
    });
    sets.push({
        data: hubRanked.map(function (n) { return { x: n[1], y: n[2] }; }),
        names: hubRanked.map(function (n) { return n[0]; }),
        pointStyle: hubRanked.map(function (n) {
            const side = (n[3] / 3) * k;
            if (highlight && highlight.includes(n[0])) return pinkSprite;
            if (!coloured) return paleSprite;
            return sprite("sq", side, side, heat(proteins.indexOf(n[0]) + 1), null, 0, 3);
        }),
        pointRadius: 6,
        order: 1,
    });
    return sets;
}

networkChart([760, 150, 480, 500], 1440, 1500, hubSets(1, 1, true), 3.3, 0.55, "#664466");
networkChart([783, 747, 393, 407], 1440, 1500, hubSets(0.82, 0.9, false, dashedHighlight), 3, 0.5, "#664466");

// detail B
const green2 = "rgba(40,178,90,0.85)", blue2 = "rgba(58,84,186,0.9)", pink2 = "rgba(232,170,238,0.85)";
networkChart([540, 1160, 730, 420], 1568, 1260, [
    edgeSet(starSegments(cul3HazeEdges), "rgba(228,228,228,0.7)", 0.8),
    edgeSet(starSegments(cul3PinkEdges), pink2, 1.1),
    edgeSet(starSegments(cul3GreenEdges), green2, 1.3),
    edgeSet(starSegments(cul3YellowEdges), "#e0c850", 1.1),
    edgeSet(starSegments(cul3BlueEdges), blue2, 1.3),
    dotSet(cul3Dots, "#ececec", "#bdbdbd", 2.8, 1.4),
    nodeSet(cul3Teal, { shape: "dia", w: 58, h: 50, fill: TEAL, line: ORANGE }, 1, 3),
    nodeSet(cul3Orange, { shape: "dia", w: 58, h: 50, fill: "#fbe9f8", line: ORANGE }, 1, 3),
    nodeSet(cul3Red, { shape: "sq", w: 44, h: 37, fill: "#fbe9f8", line: RED }, 1, 3),
    nodeSet(cul3Green, { shape: "sq", w: 44, h: 37, fill: "#fbe9f8", line: "#9ee88e" }, 1, 3),
    nodeSet(cul3Ect, { shape: "dia", w: 43, h: 36, fill: "#fbe9f8", line: "#9ee88e" }, 1, 3),
    nodeSet(cul3Tri, { shape: "tri", w: 43, h: 37, fill: "#fbe9f8", line: "#9ee88e" }, 1, 3),
    nodeSet(cul3Circle, { shape: "circle", w: 23, h: 20, fill: "#fbe9f8", line: "#cfcfcf" }, 1, 2),
], 11.5, 0.35, "#222");

// detail C
const mapkEdgeSets = [
    edgeSet(pointSegments(mapkPoints, mapkHazeEdges), "rgba(228,228,228,0.6)", 0.8),
    edgeSet(pointSegments(mapkPoints, mapkPinkEdges), "rgba(232,175,240,0.85)", 1.1),
    edgeSet(pointSegments(mapkPoints, mapkYellowEdges), "rgba(224,214,80,0.85)", 1.1),
    edgeSet(pointSegments(mapkPoints, mapkGreenEdges), "rgba(44,186,92,0.78)", 1.2),
    edgeSet(pointSegments(mapkPoints, mapkRedEdges), "rgba(226,74,110,0.85)", 1.1),
    edgeSet(pointSegments(mapkPoints, mapkDarkEdges), "rgba(44,80,130,0.85)", 1.3),
    edgeSet(pointSegments(mapkPoints, mapkBlueEdges), blue2, 1.2),
];
const mapkJunctions = [];
mapkPoints.slice(0, 33).forEach(function (p) { mapkJunctions.push(p[0], p[1]); });
networkChart([540, 1600, 730, 555], 1568, 1568, mapkEdgeSets.concat([
    dotSet(mapkJunctions, "#e4e4e4", "#cccccc", 2.4),
    nodeSet(mapkRedTri, { shape: "tri", w: 38, h: 36, fill: "#fbe9f8", line: RED }, 1, 3),
    nodeSet(mapkRedDia, { shape: "dia", w: 37, h: 36, fill: "#fbe9f8", line: RED }, 1, 3),
    nodeSet(mapkRedSq, { shape: "sq", w: 37, h: 36, fill: "#fbe9f8", line: RED }, 1, 3),
    nodeSet(mapkOrange, { shape: "dia", w: 50, h: 48, fill: "#fbe9f8", line: ORANGE }, 1, 3),
    nodeSet(mapkTealOrange, { shape: "dia", w: 50, h: 48, fill: TEAL, line: ORANGE }, 1, 3),
    nodeSet(mapkTealRed, { shape: "tri", w: 38, h: 36, fill: TEAL, line: RED }, 1, 3),
    nodeSet(mapkTealGreenTri, { shape: "tri", w: 36, h: 35, fill: TEAL, line: "#9ee88e" }, 1, 2),
    nodeSet(mapkTealGreenDia, { shape: "dia", w: 36, h: 36, fill: TEAL, line: "#9ee88e" }, 1, 2),
    nodeSet(mapkGreenSq, { shape: "sq", w: 37, h: 35, fill: "#fbe9f8", line: "#9ee88e" }, 1, 3),
    nodeSet(mapkGreenTri, { shape: "tri", w: 37, h: 35, fill: "#fbe9f8", line: "#9ee88e" }, 1, 3),
    nodeSet(mapkGreenDia, { shape: "dia", w: 36, h: 36, fill: "#fbe9f8", line: "#9ee88e" }, 1, 3),
]), 9.5, 0.35, "#333");

// ranking table
const tableCanvas = document.createElement("canvas");
tableCanvas.width = 140;
tableCanvas.height = 1110;
tableCanvas.style.left = "1273px";
tableCanvas.style.top = "77px";
tableCanvas.style.filter = "blur(0.3px)";
document.getElementById("page").appendChild(tableCanvas);

const starSprite = (function () {
    const c = document.createElement("canvas");
    c.width = 20;
    c.height = 20;
    const g = c.getContext("2d");
    g.strokeStyle = "#2e75b6";
    g.lineWidth = 3.4;
    g.translate(10, 10);
    for (let i = 0; i < 3; i++) {
        g.beginPath();
        g.moveTo(0, -9);
        g.lineTo(0, 9);
        g.stroke();
        g.rotate(Math.PI / 3);
    }
    return c;
})();

function flattenAxis(s) {
    s.width = 0;
    s.paddingTop = 0;
    s.paddingBottom = 0;
    s.paddingLeft = 0;
    s.paddingRight = 0;
}

new Chart(tableCanvas, {
    data: {
        labels: ranks,
        datasets: [
            {
                type: "bar",
                data: ranks.map(function () { return 1318; }),
                backgroundColor: ranks.map(function (r) { return heat(+r); }),
                barPercentage: 1,
                categoryPercentage: 1,
                order: 2,
            },
            {
                type: "scatter",
                data: starRanks.map(function (r, i) { return { x: starColumn[i], y: r }; }),
                pointStyle: starSprite,
                pointRadius: 8,
                order: 1,
            },
        ],
    },
    options: {
        indexAxis: "y",
        responsive: false,
        animation: false,
        events: [],
        layout: { padding: 0, autoPadding: false },
        scales: {
            x: { type: "linear", display: false, min: 1273, max: 1413 },
            y: {
                type: "category",
                position: "left",
                offset: true,
                afterFit: flattenAxis,
                border: { display: false },
                grid: { offset: true, color: "#222", lineWidth: 1.4, drawTicks: false },
                ticks: { mirror: true, padding: 3, autoSkip: false, color: "#4a0f08", font: { family: "DejaVu Sans", size: 15.5 }, z: 2 },
            },
            proteinAxis: {
                type: "category",
                position: "left",
                offset: true,
                labels: proteins,
                afterFit: flattenAxis,
                border: { display: false },
                grid: { display: false, drawTicks: false },
                ticks: { mirror: true, padding: 46, autoSkip: false, color: "#111", font: { family: "DejaVu Sans", size: 15.5 }, z: 2 },
            },
        },
        plugins: { legend: { display: false }, tooltip: { enabled: false } },
    },
});
</script>
</body>
</html>
